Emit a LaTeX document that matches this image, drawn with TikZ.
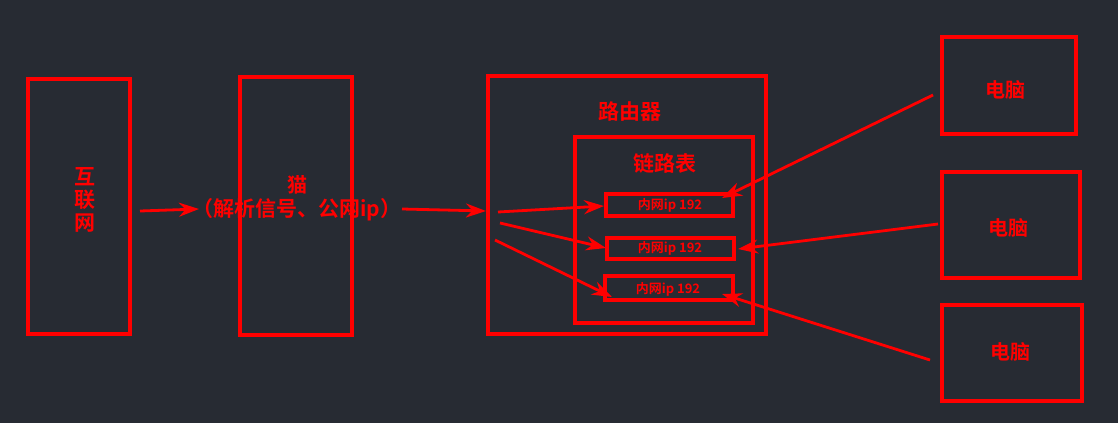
\documentclass[tikz,border=0pt]{standalone}
\usepackage{fontspec}
\newfontfamily\cjk{Noto Sans CJK SC}[BoldFont={Noto Sans CJK SC Bold}]
\usetikzlibrary{arrows.meta}
\definecolor{bg}{HTML}{272B33}
\definecolor{rd}{HTML}{FF0000}
\tikzset{
 box/.style={draw=rd,line width=3.2pt},
 lab/.style={font=\cjk\bfseries\fontsize{#1}{#1}\selectfont,text=rd,inner sep=0pt,align=center},
 arr/.style={draw=rd,line width=2.8pt,-{Stealth[length=20pt,width=14pt]}},
}
\begin{document}
\begin{tikzpicture}[x=1pt,y=-1pt]
\fill[bg] (0,0) rectangle (1118,423);
\useasboundingbox (0,0) rectangle (1118,423);
\draw[box] (28,79) rectangle (130,334);
\draw[box] (240,77) rectangle (352,335);
\draw[box] (488,76) rectangle (766,334);
\draw[box] (575,137) rectangle (753,323);
\draw[box] (606,194) rectangle (733,216);
\draw[box] (607,238) rectangle (734,259);
\draw[box] (605,276) rectangle (733,300);
\draw[box] (942,37) rectangle (1076,134);
\draw[box] (942,172) rectangle (1080,278);
\draw[box] (942,305) rectangle (1082,401);
\node[lab=21] (net) at (85,200) {互\\[2pt]联\\[2pt]网};
\node[lab=20] (cat) at (297,185) {猫};
\node[lab=21] (catd) at (297,210) {（解析信号、公网ip）};
\node[lab=21] (router) at (630,112) {路由器};
\node[lab=21] (tab) at (665,163) {链路表};
\node[lab=13] (ip1) at (670,205) {内网ip 192};
\node[lab=13] (ip2) at (670,248) {内网ip 192};
\node[lab=13] (ip3) at (668,289) {内网ip 192};
\node[lab=20] (pc1) at (1005,90) {电脑};
\node[lab=20] (pc2) at (1008,228) {电脑};
\node[lab=20] (pc3) at (1010,352) {电脑};
\coordinate (a1) at (140,211); \coordinate (b1) at (199,209);
\coordinate (a2) at (402,209); \coordinate (b2) at (486,211);
\coordinate (r1) at (498,212); \coordinate (r2) at (500,223); \coordinate (r3) at (495,240);
\coordinate (p1) at (933,95); \coordinate (p2) at (938,224); \coordinate (p3) at (930,360);
\draw[arr] (a1) -- (b1);
\draw[arr] (a2) -- (b2);
\draw[arr] (r1) -- (604,206);
\draw[arr] (r2) -- (606,248);
\draw[arr] (r3) -- (612,297);
\draw[arr] (p1) -- (722,198);
\draw[arr] (p2) -- (738,249);
\draw[arr] (p3) -- (722,294);
\end{tikzpicture}
\end{document}
